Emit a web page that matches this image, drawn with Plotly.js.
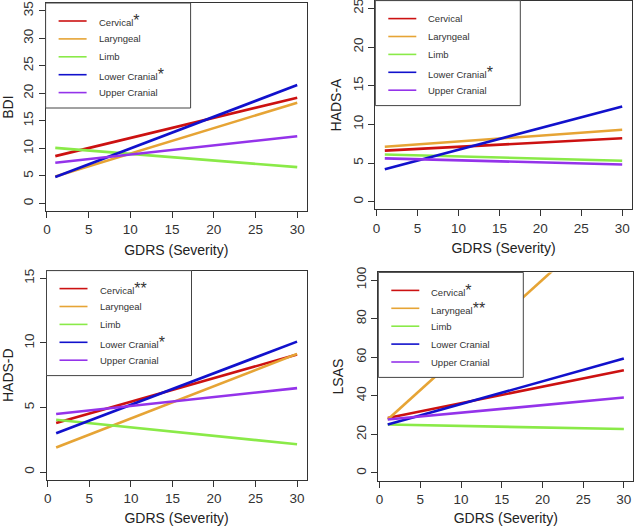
<!DOCTYPE html>
<html>
<head>
<meta charset="utf-8">
<script src="https://cdn.plot.ly/plotly-3.0.1.min.js"></script>
<style>
  html, body { margin: 0; padding: 0; background: #fff; }
  #chart { width: 640px; height: 526px; }
</style>
</head>
<body>
<div id="chart"></div>
<script>
// fitted lines, value at GDRS = 1 and at GDRS = 30
let groups = ["Cervical", "Laryngeal", "Limb", "Lower Cranial", "Upper Cranial"];
let colors = ["#cc1111", "#e6a435", "#8aea48", "#1111cc", "#9433ea"];
let gdrs = [1, 30];

let bdiAt1 = [8.6, 4.9, 10.1, 4.8, 7.4];
let bdiAt30 = [19.2, 18.3, 6.6, 21.5, 12.2];
let hadsaAt1 = [6.6, 7.1, 6.1, 4.2, 5.6];
let hadsaAt30 = [8.2, 9.3, 5.3, 12.3, 4.8];
let hadsdAt1 = [3.8, 1.9, 4.05, 3.0, 4.5];
let hadsdAt30 = [9.1, 9.15, 2.15, 10.1, 6.5];
let lsasAt1 = [28.5, 27.7, 25.1, 25.1, 27.7];
let lsasAt30 = [53.3, 138.3, 22.8, 59.3, 39.1];

// asterisks shown after the legend names
let bdiStars = ["*", "", "", "*", ""];
let hadsaStars = ["", "", "", "*", ""];
let hadsdStars = ["**", "", "", "*", ""];
let lsasStars = ["*", "**", "", "", ""];

const W = 640, H = 526;
const fontFam = "Liberation Sans, Arial, sans-serif";

// panel boxes in pixels: left, right, top, bottom
let panels = [
    {name: "BDI", at1: bdiAt1, at30: bdiAt30, stars: bdiStars, range: [-1.4, 36.4], dtick: 5, box: [45.6, 306.9, 3.0, 211.2]},
    {name: "HADS-A", at1: hadsaAt1, at30: hadsaAt30, stars: hadsaStars, range: [-1, 26], dtick: 5, box: [375.3, 631.7, 0.6, 209.4]},
    {name: "HADS-D", at1: hadsdAt1, at30: hadsdAt30, stars: hadsdStars, range: [-0.6, 15.6], dtick: 5, box: [46.5, 306.7, 270.6, 479.8]},
    {name: "LSAS", at1: lsasAt1, at30: lsasAt30, stars: lsasStars, range: [-4, 104], dtick: 20, box: [378.3, 633.3, 272.4, 480.7]},
];

let px = x => x / W;
let py = y => 1 - y / H;

let data = [];
let shapes = [];
let annotations = [];
let layout = {
    width: W,
    height: H,
    margin: {l: 0, r: 0, t: 0, b: 0},
    paper_bgcolor: "#fff",
    plot_bgcolor: "#fff",
    showlegend: false,
    font: {family: fontFam, color: "#333"},
};

panels.forEach((p, k) => {
    let n = k + 1;
    let xa = "x" + (n == 1 ? "" : n);
    let ya = "y" + (n == 1 ? "" : n);
    let [l, r, t, b] = p.box;

    groups.forEach((g, i) => {
        data.push({
            x: gdrs,
            y: [p.at1[i], p.at30[i]],
            xaxis: xa,
            yaxis: ya,
            mode: "lines",
            type: "scatter",
            name: g,
            line: {color: colors[i], width: 2.6},
            hoverinfo: "name+y",
        });
    });

    let common = {
        showgrid: false,
        zeroline: false,
        showline: true,
        mirror: true,
        linecolor: "#333",
        linewidth: 1,
        ticks: "outside",
        ticklen: 6,
        tickcolor: "#333",
        tickfont: {size: 13.5, color: "#333", family: fontFam},
        ticklabeloverflow: "allow",
        fixedrange: true,
    };

    layout["xaxis" + (n == 1 ? "" : n)] = Object.assign({}, common, {
        domain: [px(l), px(r)],
        anchor: ya,
        range: [-0.16, 31.16],
        tick0: 0,
        dtick: 5,
        title: {text: "GDRS (Severity)", font: {size: 14, color: "#222"}, standoff: 8},
    });
    layout["yaxis" + (n == 1 ? "" : n)] = Object.assign({}, common, {
        domain: [py(b), py(t)],
        anchor: xa,
        range: p.range,
        tick0: 0,
        dtick: p.dtick,
        tickangle: -90,
        title: {text: p.name, font: {size: 14, color: "#222"}, standoff: 6},
    });

    // legend box, drawn like the R legend
    shapes.push({
        type: "rect", xref: "paper", yref: "paper",
        x0: px(l), x1: px(l + 145), y0: py(t), y1: py(t + 105),
        line: {color: "#444", width: 1}, fillcolor: "#fff", layer: "above",
    });
    groups.forEach((g, i) => {
        let yy = t + 18 + i * 17.9;
        shapes.push({
            type: "line", xref: "paper", yref: "paper",
            x0: px(l + 13), x1: px(l + 41), y0: py(yy), y1: py(yy),
            line: {color: colors[i], width: 1.6}, layer: "above",
        });
        let star = p.stars[i] ? '<span style="font-size:16px">' + p.stars[i] + "</span>" : "";
        annotations.push({
            xref: "paper", yref: "paper",
            x: px(l + 51), y: py(yy),
            xanchor: "left", yanchor: "middle",
            text: g + star,
            showarrow: false,
            font: {size: 9.5, color: "#333", family: fontFam},
        });
    });
});

layout.shapes = shapes;
layout.annotations = annotations;

Plotly.newPlot("chart", data, layout, {displayModeBar: false, staticPlot: true});
</script>
</body>
</html>
